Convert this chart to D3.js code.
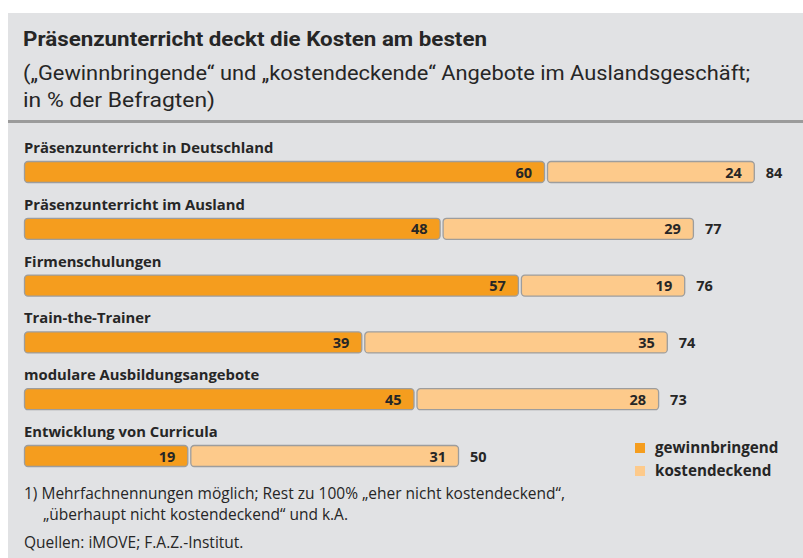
<!DOCTYPE html>
<html>
<head>
<meta charset="utf-8">
<style>
  body { margin: 0; background: #fff; }
  svg { display: block; }
</style>
</head>
<body>
<svg width="803" height="558"></svg>
<script src="https://d3js.org/d3.v7.min.js"></script>
<script>

    var categories = ["Präsenzunterricht in Deutschland", "Präsenzunterricht im Ausland", "Firmenschulungen",
                      "Train-the-Trainer", "modulare Ausbildungsangebote", "Entwicklung von Curricula"];
    var gewinnbringend = [60, 48, 57, 39, 45, 19];
    var kostendeckend = [24, 29, 19, 35, 28, 31];
    var totals = [84, 77, 76, 74, 73, 50];
    var seriesNames = ["gewinnbringend", "kostendeckend"];

    var title = "Präsenzunterricht deckt die Kosten am besten";
    var subtitle = ["(„Gewinnbringende“ und „kostendeckende“ Angebote im Auslandsgeschäft;", "in % der Befragten)"];
    var notes = ["1) Mehrfachnennungen möglich; Rest zu 100% „eher nicht kostendeckend“,",
                 "„überhaupt nicht kostendeckend“ und k.A."];
    var source = "Quellen: iMOVE; F.A.Z.-Institut.";

    var colors = ["#f59d1e", "#fdca8b"],
        textColor = "#262626",
        bodyFont = "'Open Sans', sans-serif",
        headFont = "Roboto, sans-serif";

    var svg = d3.select("svg");

    // gray panel
    svg.append("rect")
            .attr("x", 8).attr("y", 13)
            .attr("width", 795).attr("height", 545)
            .attr("fill", "#e1e2e4");

    svg.append("rect")
            .attr("x", 8).attr("y", 120)
            .attr("width", 795).attr("height", 3)
            .attr("fill", "#9b9b9b");

    svg.append("text")
            .attr("x", 23).attr("y", 46)
            .attr("font-family", headFont).attr("font-weight", 700)
            .attr("font-size", 21).attr("fill", textColor)
            .attr("textLength", 464).attr("lengthAdjust", "spacingAndGlyphs")
            .text(title);

    var subWidths = [727, 192];
    svg.selectAll(".sub")
            .data(subtitle)
            .enter().append("text")
            .attr("x", 23)
            .attr("y", function(d, i) { return 80 + i * 27; })
            .attr("font-family", headFont).attr("font-weight", 400)
            .attr("font-size", 20.5).attr("fill", textColor)
            .attr("textLength", function(d, i) { return subWidths[i]; })
            .attr("lengthAdjust", "spacingAndGlyphs")
            .text(function(d) { return d; });

    var x = d3.scaleLinear()
            .domain([0, 100])
            .range([24, 894]);

    var y = d3.scaleLinear()
            .domain([0, categories.length - 1])
            .range([161, 445]);

    var barH = 21;

    var rows = svg.selectAll(".row")
            .data(categories)
            .enter().append("g")
            .attr("class", "row")
            .attr("transform", function(d, i) { return "translate(0," + y(i) + ")"; });

    rows.append("text")
            .attr("x", 24).attr("y", -8)
            .attr("font-family", bodyFont).attr("font-weight", 700)
            .attr("font-size", 14.8).attr("fill", textColor)
            .text(function(d) { return d; });

    rows.each(function(d, i) {
        var row = d3.select(this);
        var segs = [
            {x0: x(0), x1: x(gewinnbringend[i]) - 1, v: gewinnbringend[i], c: colors[0]},
            {x0: x(gewinnbringend[i]) + 1, x1: x(gewinnbringend[i] + kostendeckend[i]), v: kostendeckend[i], c: colors[1]}
        ];
        segs.forEach(function(s) {
            row.append("rect")
                    .attr("x", s.x0 + 0.5).attr("y", 0.5)
                    .attr("width", s.x1 - s.x0 - 1).attr("height", barH)
                    .attr("rx", 3.5)
                    .attr("fill", s.c)
                    .attr("stroke", "#9d9d9d").attr("stroke-width", 1.3);
            row.append("text")
                    .attr("x", s.x1 - 13).attr("y", 16.5)
                    .attr("text-anchor", "end")
                    .attr("font-family", bodyFont).attr("font-weight", 700)
                    .attr("font-size", 14.5).attr("fill", textColor)
                    .text(s.v);
        });
        row.append("text")
                .attr("x", x(totals[i]) + 11).attr("y", 16.5)
                .attr("font-family", bodyFont).attr("font-weight", 700)
                .attr("font-size", 14.5).attr("fill", textColor)
                .text(totals[i]);
    });

    // legend
    var legend = svg.selectAll(".legend")
            .data(seriesNames)
            .enter().append("g")
            .attr("transform", function(d, i) { return "translate(635," + (443 + i * 23) + ")"; });

    legend.append("rect")
            .attr("width", 10).attr("height", 10)
            .attr("fill", function(d, i) { return colors[i]; });

    legend.append("text")
            .attr("x", 20).attr("y", 10)
            .attr("font-family", bodyFont).attr("font-weight", 700)
            .attr("font-size", 15.2).attr("fill", textColor)
            .text(function(d) { return d; });

    // notes
    svg.selectAll(".note")
            .data(notes)
            .enter().append("text")
            .attr("x", function(d, i) { return i === 0 ? 24 : 43; })
            .attr("y", function(d, i) { return 499 + i * 21; })
            .attr("font-family", bodyFont).attr("font-weight", 400)
            .attr("font-size", 15.5).attr("fill", textColor)
            .text(function(d) { return d; });

    svg.append("text")
            .attr("x", 24).attr("y", 548)
            .attr("font-family", bodyFont).attr("font-weight", 400)
            .attr("font-size", 15.5).attr("fill", textColor)
            .text(source);

</script>
</body>
</html>
